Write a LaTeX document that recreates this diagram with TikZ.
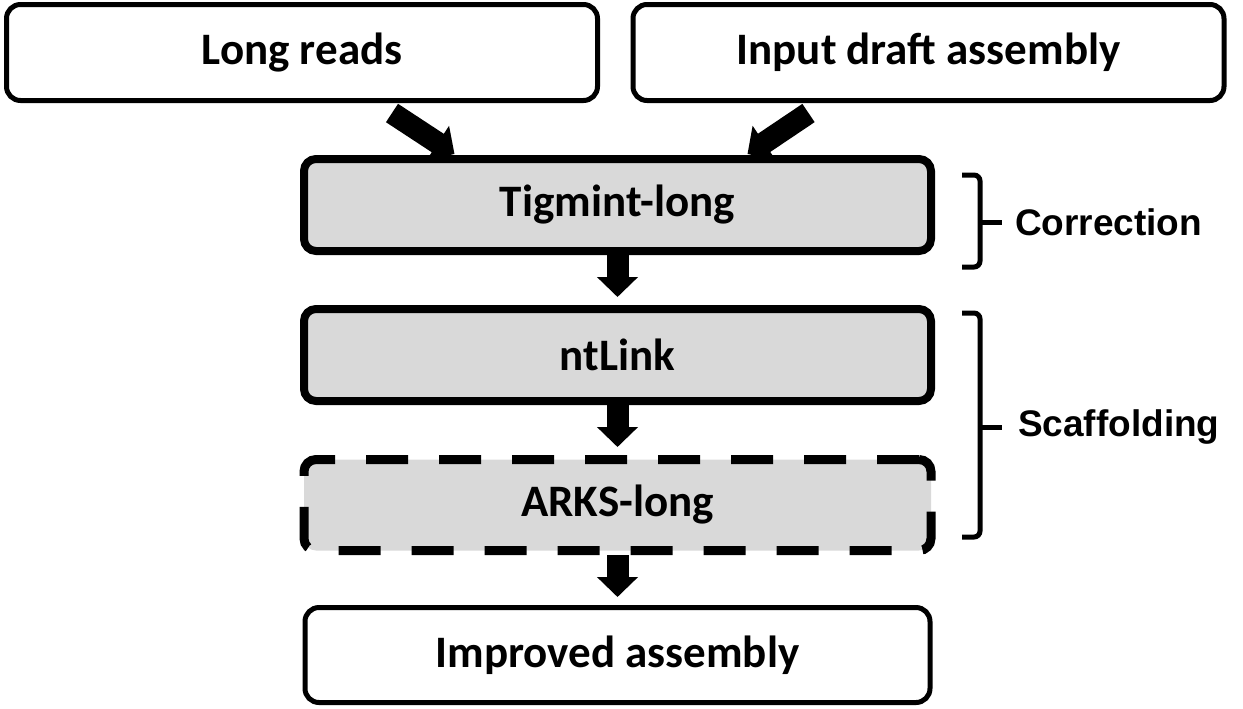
\documentclass[tikz,border=0pt]{standalone}
\usepackage{fontspec}
\setmainfont{Carlito}
\newfontfamily\labelfont{Liberation Sans}
\usepackage{tikz}
\usetikzlibrary{arrows.meta,positioning}
\definecolor{toolgray}{HTML}{D9D9D9}
\tikzstyle{inputbox} = [draw=black, line width=2.5pt, rectangle, rounded corners=7pt, minimum width=295.5pt, minimum height=48pt, font=\fontsize{22.5}{26}\selectfont\bfseries]
\tikzstyle{toolbox} = [draw=black, fill=toolgray, line width=4pt, rectangle, rounded corners=6pt, minimum width=313.5pt, minimum height=46pt, font=\fontsize{22.5}{26}\selectfont\bfseries]
\tikzstyle{optbox} = [toolbox, line width=4.5pt, minimum height=45.5pt, dash pattern=on 21pt off 15.5pt]
\tikzstyle{bigarrow} = [line width=11pt, -{Triangle[width=20pt,length=10pt]}]
\tikzstyle{bracket} = [line width=2.5pt, rounded corners=3pt]
\tikzstyle{steplabel} = [anchor=west, font=\labelfont\fontsize{18.5}{22}\selectfont\bfseries]

\begin{document}
\begin{tikzpicture}[x=0.5pt, y=-0.5pt]
							\useasboundingbox (0,0) rectangle (1243,708);
							\node [inputbox] (reads) at (302,52.5) {Long reads};
							\node [inputbox] (draft) at (928.5,52.5) {Input draft assembly};
							\node [toolbox] (tigmint) at (617.5,205) {Tigmint-long};
							\node [toolbox, below=25pt of tigmint] (ntlink) {ntLink};
							\node [optbox, below=25pt of ntlink] (arks) {ARKS-long};
							\node [inputbox, minimum width=312.5pt, minimum height=47.5pt, below=25pt of arks] (improved) {Improved assembly};
							\draw [bigarrow] ([shift={(90,10)}]reads.south) -- ([shift={(-163,-1)}]tigmint.north);
							\draw [bigarrow] ([shift={(-120,10)}]draft.south) -- ([shift={(130,-1)}]tigmint.north);
							\draw [bigarrow, shorten >=4pt] (tigmint) -- (ntlink);
							\draw [bigarrow, shorten >=4pt] (ntlink) -- (arks);
							\draw [bigarrow, shorten >=4pt] (arks) -- (improved);
							\draw [bracket] (962,175) -| (980,267) -- (962,267);
							\draw [bracket] (980,222) -- (1002,222);
							\draw [bracket] (962,313) -| (980,537) -- (962,537);
							\draw [bracket] (980,427) -- (1002,427);
							\node [steplabel] (corr) at (1008,222) {Correction};
							\node [steplabel] (scaf) at (1011,427) {Scaffolding};
						\end{tikzpicture}
\end{document}
